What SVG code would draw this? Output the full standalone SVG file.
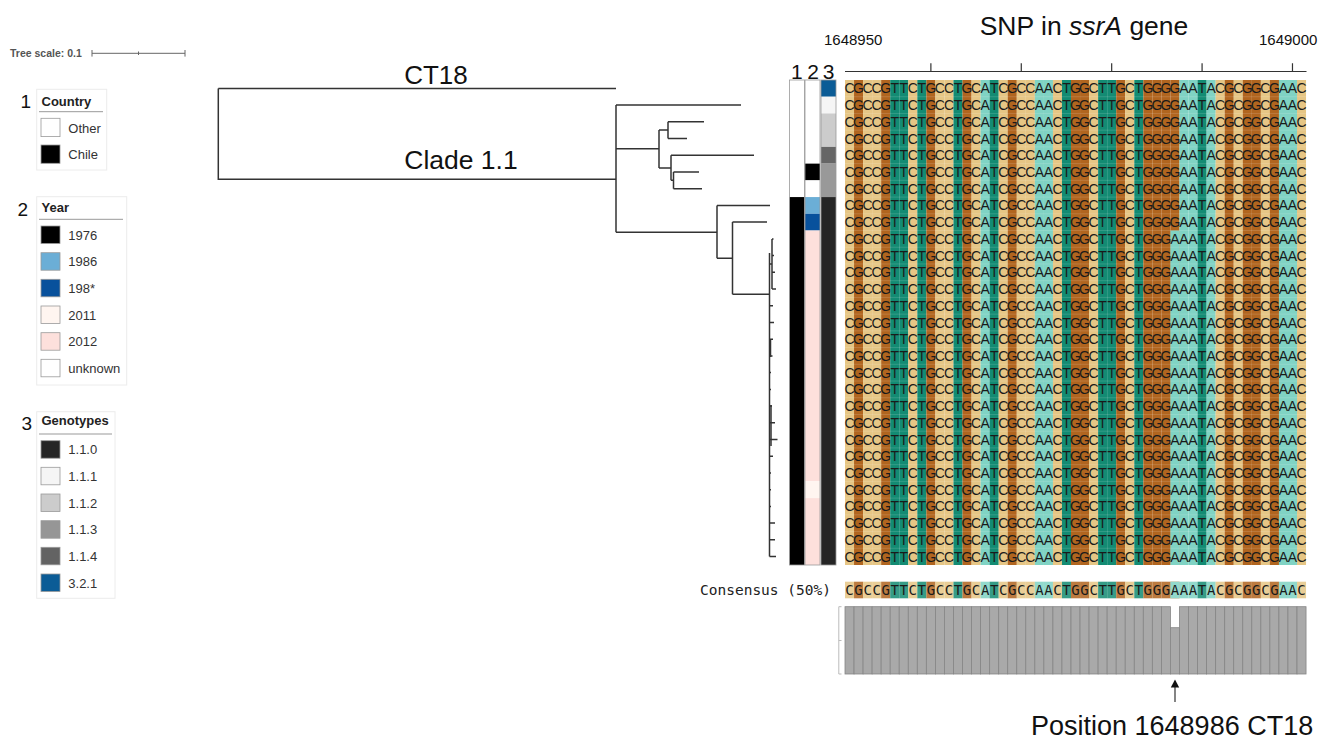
<svg xmlns="http://www.w3.org/2000/svg" xmlns:xlink="http://www.w3.org/1999/xlink" width="1326" height="740" viewBox="0 0 1326 740">
<style>
text{font-family:"Liberation Sans",Arial,sans-serif;fill:#111}
.lgt{font-size:13px;font-weight:bold;fill:#222}
.lgi{font-size:13px;fill:#333}
.lgn{font-size:19px;fill:#111}
.box{fill:#fff;stroke:#ececec;stroke-width:1}
.ul{stroke:#999;stroke-width:1}
.sw{stroke:#9a9a9a;stroke-width:0.8}
.tr{fill:none;stroke:#333;stroke-width:1.5}
.C{fill:#e6c685}.G{fill:#b1651f}.T{fill:#138b73}.A{fill:#80d3c4}
.seq{font-size:14px;text-anchor:middle;fill:#1a1a1a}
.cseq{font-family:"DejaVu Sans Mono",monospace;font-size:14px;text-anchor:middle;fill:#1a1a1a}
.bar{fill:#a9a9a9;stroke:#858585;stroke-width:0.8}
.mc{stroke:#9a9a9a;stroke-width:0.8;fill:none}
</style>
<defs>
<g id="cols">
<rect class="C" x="845" y="0" width="9.1" height="1"/><rect class="G" x="854.04" y="0" width="9.1" height="1"/><rect class="C" x="863.08" y="0" width="9.1" height="1"/><rect class="C" x="872.12" y="0" width="9.1" height="1"/><rect class="G" x="881.16" y="0" width="9.1" height="1"/><rect class="T" x="890.2" y="0" width="9.1" height="1"/><rect class="T" x="899.24" y="0" width="9.1" height="1"/><rect class="C" x="908.28" y="0" width="9.1" height="1"/><rect class="T" x="917.32" y="0" width="9.1" height="1"/><rect class="G" x="926.36" y="0" width="9.1" height="1"/>
<rect class="C" x="935.4" y="0" width="9.1" height="1"/><rect class="C" x="944.44" y="0" width="9.1" height="1"/><rect class="T" x="953.48" y="0" width="9.1" height="1"/><rect class="G" x="962.52" y="0" width="9.1" height="1"/><rect class="C" x="971.56" y="0" width="9.1" height="1"/><rect class="A" x="980.6" y="0" width="9.1" height="1"/><rect class="T" x="989.64" y="0" width="9.1" height="1"/><rect class="C" x="998.68" y="0" width="9.1" height="1"/><rect class="G" x="1007.72" y="0" width="9.1" height="1"/><rect class="C" x="1016.76" y="0" width="9.1" height="1"/>
<rect class="C" x="1025.8" y="0" width="9.1" height="1"/><rect class="A" x="1034.84" y="0" width="9.1" height="1"/><rect class="A" x="1043.88" y="0" width="9.1" height="1"/><rect class="C" x="1052.92" y="0" width="9.1" height="1"/><rect class="T" x="1061.96" y="0" width="9.1" height="1"/><rect class="G" x="1071" y="0" width="9.1" height="1"/><rect class="G" x="1080.04" y="0" width="9.1" height="1"/><rect class="C" x="1089.08" y="0" width="9.1" height="1"/><rect class="T" x="1098.12" y="0" width="9.1" height="1"/><rect class="T" x="1107.16" y="0" width="9.1" height="1"/>
<rect class="G" x="1116.2" y="0" width="9.1" height="1"/><rect class="C" x="1125.24" y="0" width="9.1" height="1"/><rect class="T" x="1134.28" y="0" width="9.1" height="1"/><rect class="G" x="1143.32" y="0" width="9.1" height="1"/><rect class="G" x="1152.36" y="0" width="9.1" height="1"/><rect class="G" x="1161.4" y="0" width="9.1" height="1"/><rect class="G" x="1170.44" y="0" width="9.1" height="1"/><rect class="A" x="1179.48" y="0" width="9.1" height="1"/><rect class="A" x="1188.52" y="0" width="9.1" height="1"/><rect class="T" x="1197.56" y="0" width="9.1" height="1"/>
<rect class="A" x="1206.6" y="0" width="9.1" height="1"/><rect class="C" x="1215.64" y="0" width="9.1" height="1"/><rect class="G" x="1224.68" y="0" width="9.1" height="1"/><rect class="C" x="1233.72" y="0" width="9.1" height="1"/><rect class="G" x="1242.76" y="0" width="9.1" height="1"/><rect class="G" x="1251.8" y="0" width="9.1" height="1"/><rect class="C" x="1260.84" y="0" width="9.1" height="1"/><rect class="G" x="1269.88" y="0" width="9.1" height="1"/><rect class="A" x="1278.92" y="0" width="9.1" height="1"/><rect class="A" x="1287.96" y="0" width="9.1" height="1"/>
<rect class="C" x="1297" y="0" width="9.04" height="1"/>
</g>
<text id="sG" class="seq" y="0" x="849.52 858.56 867.6 876.64 885.68 894.72 903.76 912.8 921.84 930.88 939.92 948.96 958 967.04 976.08 985.12 994.16 1003.2 1012.24 1021.28 1030.32 1039.36 1048.4 1057.44 1066.48 1075.52 1084.56 1093.6 1102.64 1111.68 1120.72 1129.76 1138.8 1147.84 1156.88 1165.92 1174.96 1184 1193.04 1202.08 1211.12 1220.16 1229.2 1238.24 1247.28 1256.32 1265.36 1274.4 1283.44 1292.48 1301.52">CGCCGTTCTGCCTGCATCGCCAACTGGCTTGCTGGGGAATACGCGGCGAAC</text>
<text id="sA" class="seq" y="0" x="849.52 858.56 867.6 876.64 885.68 894.72 903.76 912.8 921.84 930.88 939.92 948.96 958 967.04 976.08 985.12 994.16 1003.2 1012.24 1021.28 1030.32 1039.36 1048.4 1057.44 1066.48 1075.52 1084.56 1093.6 1102.64 1111.68 1120.72 1129.76 1138.8 1147.84 1156.88 1165.92 1174.96 1184 1193.04 1202.08 1211.12 1220.16 1229.2 1238.24 1247.28 1256.32 1265.36 1274.4 1283.44 1292.48 1301.52">CGCCGTTCTGCCTGCATCGCCAACTGGCTTGCTGGGAAATACGCGGCGAAC</text>
</defs>
<rect width="1326" height="740" fill="#fff"/>

<g id="tree-scale">
<text x="10" y="57" style="font-size:10.5px;font-weight:bold;fill:#555">Tree scale: 0.1</text>
<path d="M92,53.3 H185 M92,50 V56.6 M185,50 V56.6 M138.5,51.5 V55" stroke="#666" stroke-width="1" fill="none"/>
</g>

<g id="legend-country">
<text class="lgn" x="31" y="108" text-anchor="end">1</text>
<rect class="box" x="36.7" y="89.3" width="70" height="80.7"/>
<text class="lgt" x="41.5" y="105.7">Country</text>
<line class="ul" x1="39" y1="111.7" x2="103" y2="111.7"/>
<rect class="sw" x="41" y="118.3" width="19" height="18.3" fill="#fff"/><text class="lgi" x="68.3" y="132.5">Other</text>
<rect class="sw" x="41" y="145" width="19" height="18.3" fill="#000"/><text class="lgi" x="68.3" y="159">Chile</text>
</g>

<g id="legend-year">
<text class="lgn" x="28" y="216" text-anchor="end">2</text>
<rect class="box" x="36.7" y="196.7" width="90" height="188.3"/>
<text class="lgt" x="41.5" y="211.7">Year</text>
<line class="ul" x1="39" y1="219.3" x2="123" y2="219.3"/>
<rect class="sw" x="41" y="226" width="19" height="17.5" fill="#000"/><text class="lgi" x="68.3" y="239.5">1976</text>
<rect class="sw" x="41" y="252.7" width="19" height="17.5" fill="#6baed6"/><text class="lgi" x="68.3" y="266.2">1986</text>
<rect class="sw" x="41" y="279.3" width="19" height="17.5" fill="#08519c"/><text class="lgi" x="68.3" y="292.8">198*</text>
<rect class="sw" x="41" y="306" width="19" height="17.5" fill="#fff5f0"/><text class="lgi" x="68.3" y="319.5">2011</text>
<rect class="sw" x="41" y="332.7" width="19" height="17.5" fill="#fde0dc"/><text class="lgi" x="68.3" y="346.2">2012</text>
<rect class="sw" x="41" y="359.3" width="19" height="17.5" fill="#fff"/><text class="lgi" x="68.3" y="372.8">unknown</text>
</g>

<g id="legend-genotypes">
<text class="lgn" x="32" y="430" text-anchor="end">3</text>
<rect class="box" x="36.7" y="411.7" width="78.3" height="186.6"/>
<text class="lgt" x="41.5" y="425">Genotypes</text>
<line class="ul" x1="39" y1="434" x2="112" y2="434"/>
<rect class="sw" x="41" y="440.7" width="19" height="17.5" fill="#252525"/><text class="lgi" x="68.3" y="454.2">1.1.0</text>
<rect class="sw" x="41" y="467.3" width="19" height="17.5" fill="#f5f5f5"/><text class="lgi" x="68.3" y="480.8">1.1.1</text>
<rect class="sw" x="41" y="494" width="19" height="17.5" fill="#cccccc"/><text class="lgi" x="68.3" y="507.5">1.1.2</text>
<rect class="sw" x="41" y="520.7" width="19" height="17.5" fill="#969696"/><text class="lgi" x="68.3" y="534.2">1.1.3</text>
<rect class="sw" x="41" y="547.3" width="19" height="17.5" fill="#636363"/><text class="lgi" x="68.3" y="560.8">1.1.4</text>
<rect class="sw" x="41" y="574" width="19" height="17.5" fill="#0b5c96"/><text class="lgi" x="68.3" y="587.5">3.2.1</text>
</g>

<g id="tree-edges">
<path class="tr" d="M218.3,88.4 H616 M218.3,88.4 V179.3 H616 M616,105.1 V232.3 M616,105.1 H741 M616,148.7 H659 M659,130 V168 M659,130 H668 M668,121.8 V138.5 M668,121.8 H704 M668,138.5 H687 M659,168 H671 M671,155.3 V180.3 M671,155.3 H754 M671,180.3 H673.5 M673.5,172 V188.7 M673.5,172 H699 M673.5,188.7 H702 M616,232.3 H717 M717,205.4 V258.3 M717,205.4 H770 M717,258.3 H732.5 M732.5,222.1 V294.3 M732.5,222.1 H767 M732.5,294.3 H769.5"/>
<path class="tr" stroke-width="1.2" d="M769.5,253 V556.6 M769.5,264 H772 M772,238.9 V289 M772,238.9 H773.5 M772,255.6 H774 M772,272.3 H775 M772,289 H776 M769.5,305.8 H773 M769.5,322.5 H774 M769.5,339.2 H773 M769.5,355.9 H772.5 M769.5,372.6 H771 M769.5,389.4 H771 M769.5,406.1 H772 M769.5,422.8 H775 M769.5,439.5 H777.5 M769.5,456.2 H773 M769.5,473 H771 M769.5,489.7 H771 M769.5,506.4 H771 M769.5,523.1 H775 M769.5,539.8 H775 M769.5,556.6 H776"/>
<path class="tr" stroke-width="2.5" d="M770.5,339 V357 M771,405 V446"/>
</g>

<g id="tree-labels">
<text x="436" y="83.5" text-anchor="middle" style="font-size:26px">CT18</text>
<text x="461" y="169.3" text-anchor="middle" style="font-size:26.5px">Clade 1.1</text>
</g>

<g id="metadata">
<text x="796.8" y="78.5" text-anchor="middle" style="font-size:21px">1</text>
<text x="813" y="78.5" text-anchor="middle" style="font-size:21px">2</text>
<text x="828.5" y="78.5" text-anchor="middle" style="font-size:21px">3</text>
<rect x="789.5" y="80" width="15" height="117.07" fill="#fff"/>
<rect x="789.5" y="197.07" width="15" height="367.93" fill="#000"/>
<rect x="805" y="80" width="15" height="83.62" fill="#fff"/>
<rect x="805" y="163.62" width="15" height="16.72" fill="#000"/>
<rect x="805" y="180.34" width="15" height="16.73" fill="#fff"/>
<rect x="805" y="197.07" width="15" height="16.72" fill="#6baed6"/>
<rect x="805" y="213.79" width="15" height="16.73" fill="#08519c"/>
<rect x="805" y="230.52" width="15" height="250.86" fill="#fde0dc"/>
<rect x="805" y="481.38" width="15" height="16.72" fill="#fff5f0"/>
<rect x="805" y="498.1" width="15" height="66.9" fill="#fde0dc"/>
<rect x="821" y="80" width="15" height="16.72" fill="#0b5c96"/>
<rect x="821" y="96.72" width="15" height="16.73" fill="#f5f5f5"/>
<rect x="821" y="113.45" width="15" height="33.45" fill="#cccccc"/>
<rect x="821" y="146.9" width="15" height="16.72" fill="#666666"/>
<rect x="821" y="163.62" width="15" height="33.45" fill="#999999"/>
<rect x="821" y="197.07" width="15" height="367.93" fill="#252525"/>
<rect class="mc" x="789.5" y="80" width="15" height="485"/>
<rect class="mc" x="805" y="80" width="15" height="485"/>
<rect class="mc" x="821" y="80" width="15" height="485"/>
</g>

<g id="header">
<text x="1084" y="35" text-anchor="middle" style="font-size:26.5px">SNP in <tspan font-style="italic">ssrA</tspan> gene</text>
<text x="824" y="45" style="font-size:15px">1648950</text>
<text x="1259" y="45" style="font-size:15px">1649000</text>
<path d="M845,71.5 H1306.5 M930.88,63.3 V71.5 M1021.28,63.3 V71.5 M1111.68,63.3 V71.5 M1202.08,63.3 V71.5 M1292.48,63.3 V71.5" stroke="#333" stroke-width="1.2" fill="none"/>
</g>

<g id="alignment">
<use xlink:href="#cols" href="#cols" transform="translate(0,80) scale(1,485)"/>
<rect class="A" x="1170.44" y="230.52" width="9.1" height="334.48"/>
<path d="M845,96.72H1306M845,113.45H1306M845,130.17H1306M845,146.9H1306M845,163.62H1306M845,180.34H1306M845,197.07H1306M845,213.79H1306M845,230.52H1306M845,247.24H1306M845,263.96H1306M845,280.69H1306M845,297.41H1306M845,314.14H1306M845,330.86H1306M845,347.58H1306M845,364.31H1306M845,381.03H1306M845,397.76H1306M845,414.48H1306M845,431.2H1306M845,447.93H1306M845,464.65H1306M845,481.38H1306M845,498.1H1306M845,514.82H1306M845,531.55H1306M845,548.27H1306" stroke="#fff" stroke-opacity="0.18" stroke-width="0.8" fill="none"/>
<use xlink:href="#sG" href="#sG" y="93.36"/>
<use xlink:href="#sG" href="#sG" y="110.09"/>
<use xlink:href="#sG" href="#sG" y="126.81"/>
<use xlink:href="#sG" href="#sG" y="143.53"/>
<use xlink:href="#sG" href="#sG" y="160.26"/>
<use xlink:href="#sG" href="#sG" y="176.98"/>
<use xlink:href="#sG" href="#sG" y="193.71"/>
<use xlink:href="#sG" href="#sG" y="210.43"/>
<use xlink:href="#sG" href="#sG" y="227.16"/>
<use xlink:href="#sA" href="#sA" y="243.88"/>
<use xlink:href="#sA" href="#sA" y="260.6"/>
<use xlink:href="#sA" href="#sA" y="277.33"/>
<use xlink:href="#sA" href="#sA" y="294.05"/>
<use xlink:href="#sA" href="#sA" y="310.78"/>
<use xlink:href="#sA" href="#sA" y="327.5"/>
<use xlink:href="#sA" href="#sA" y="344.22"/>
<use xlink:href="#sA" href="#sA" y="360.95"/>
<use xlink:href="#sA" href="#sA" y="377.67"/>
<use xlink:href="#sA" href="#sA" y="394.4"/>
<use xlink:href="#sA" href="#sA" y="411.12"/>
<use xlink:href="#sA" href="#sA" y="427.84"/>
<use xlink:href="#sA" href="#sA" y="444.57"/>
<use xlink:href="#sA" href="#sA" y="461.29"/>
<use xlink:href="#sA" href="#sA" y="478.02"/>
<use xlink:href="#sA" href="#sA" y="494.74"/>
<use xlink:href="#sA" href="#sA" y="511.46"/>
<use xlink:href="#sA" href="#sA" y="528.19"/>
<use xlink:href="#sA" href="#sA" y="544.91"/>
<use xlink:href="#sA" href="#sA" y="561.64"/>
</g>

<g id="consensus">
<text x="700" y="595" style="font-family:'DejaVu Sans Mono',monospace;font-size:14.5px;fill:#222">Consensus (50%)</text>
<g opacity="0.85">
<use xlink:href="#cols" href="#cols" transform="translate(0,581.7) scale(1,16.6)"/>
<rect class="A" x="1170.44" y="581.7" width="9.1" height="16.6"/>
</g>
<text class="cseq" y="595" x="849.52 858.56 867.6 876.64 885.68 894.72 903.76 912.8 921.84 930.88 939.92 948.96 958 967.04 976.08 985.12 994.16 1003.2 1012.24 1021.28 1030.32 1039.36 1048.4 1057.44 1066.48 1075.52 1084.56 1093.6 1102.64 1111.68 1120.72 1129.76 1138.8 1147.84 1156.88 1165.92 1174.96 1184 1193.04 1202.08 1211.12 1220.16 1229.2 1238.24 1247.28 1256.32 1265.36 1274.4 1283.44 1292.48 1301.52">CGCCGTTCTGCCTGCATCGCCAACTGGCTTGCTGGGAAATACGCGGCGAAC</text>
</g>

<g id="histogram">
<path d="M841.5,606.7 H838.8 V674 H841.5 M838.8,640.5 H841.5" stroke="#bbb" stroke-width="1" fill="none"/>
<rect class="bar" x="845" y="606.7" width="9.04" height="67.3"/><rect class="bar" x="854.04" y="606.7" width="9.04" height="67.3"/><rect class="bar" x="863.08" y="606.7" width="9.04" height="67.3"/><rect class="bar" x="872.12" y="606.7" width="9.04" height="67.3"/><rect class="bar" x="881.16" y="606.7" width="9.04" height="67.3"/><rect class="bar" x="890.2" y="606.7" width="9.04" height="67.3"/><rect class="bar" x="899.24" y="606.7" width="9.04" height="67.3"/><rect class="bar" x="908.28" y="606.7" width="9.04" height="67.3"/><rect class="bar" x="917.32" y="606.7" width="9.04" height="67.3"/><rect class="bar" x="926.36" y="606.7" width="9.04" height="67.3"/>
<rect class="bar" x="935.4" y="606.7" width="9.04" height="67.3"/><rect class="bar" x="944.44" y="606.7" width="9.04" height="67.3"/><rect class="bar" x="953.48" y="606.7" width="9.04" height="67.3"/><rect class="bar" x="962.52" y="606.7" width="9.04" height="67.3"/><rect class="bar" x="971.56" y="606.7" width="9.04" height="67.3"/><rect class="bar" x="980.6" y="606.7" width="9.04" height="67.3"/><rect class="bar" x="989.64" y="606.7" width="9.04" height="67.3"/><rect class="bar" x="998.68" y="606.7" width="9.04" height="67.3"/><rect class="bar" x="1007.72" y="606.7" width="9.04" height="67.3"/><rect class="bar" x="1016.76" y="606.7" width="9.04" height="67.3"/>
<rect class="bar" x="1025.8" y="606.7" width="9.04" height="67.3"/><rect class="bar" x="1034.84" y="606.7" width="9.04" height="67.3"/><rect class="bar" x="1043.88" y="606.7" width="9.04" height="67.3"/><rect class="bar" x="1052.92" y="606.7" width="9.04" height="67.3"/><rect class="bar" x="1061.96" y="606.7" width="9.04" height="67.3"/><rect class="bar" x="1071" y="606.7" width="9.04" height="67.3"/><rect class="bar" x="1080.04" y="606.7" width="9.04" height="67.3"/><rect class="bar" x="1089.08" y="606.7" width="9.04" height="67.3"/><rect class="bar" x="1098.12" y="606.7" width="9.04" height="67.3"/><rect class="bar" x="1107.16" y="606.7" width="9.04" height="67.3"/>
<rect class="bar" x="1116.2" y="606.7" width="9.04" height="67.3"/><rect class="bar" x="1125.24" y="606.7" width="9.04" height="67.3"/><rect class="bar" x="1134.28" y="606.7" width="9.04" height="67.3"/><rect class="bar" x="1143.32" y="606.7" width="9.04" height="67.3"/><rect class="bar" x="1152.36" y="606.7" width="9.04" height="67.3"/><rect class="bar" x="1161.4" y="606.7" width="9.04" height="67.3"/><rect class="bar" x="1170.44" y="627.7" width="9.04" height="46.3"/><rect class="bar" x="1179.48" y="606.7" width="9.04" height="67.3"/><rect class="bar" x="1188.52" y="606.7" width="9.04" height="67.3"/><rect class="bar" x="1197.56" y="606.7" width="9.04" height="67.3"/>
<rect class="bar" x="1206.6" y="606.7" width="9.04" height="67.3"/><rect class="bar" x="1215.64" y="606.7" width="9.04" height="67.3"/><rect class="bar" x="1224.68" y="606.7" width="9.04" height="67.3"/><rect class="bar" x="1233.72" y="606.7" width="9.04" height="67.3"/><rect class="bar" x="1242.76" y="606.7" width="9.04" height="67.3"/><rect class="bar" x="1251.8" y="606.7" width="9.04" height="67.3"/><rect class="bar" x="1260.84" y="606.7" width="9.04" height="67.3"/><rect class="bar" x="1269.88" y="606.7" width="9.04" height="67.3"/><rect class="bar" x="1278.92" y="606.7" width="9.04" height="67.3"/><rect class="bar" x="1287.96" y="606.7" width="9.04" height="67.3"/>
<rect class="bar" x="1297" y="606.7" width="9.04" height="67.3"/>
</g>

<g id="annotation">
<path d="M1175,702 V686" stroke="#333" stroke-width="1.2"/>
<path d="M1175,679.5 L1179.2,687.5 L1170.8,687.5 Z" fill="#111"/>
<text x="1031" y="735" style="font-size:27px">Position 1648986 CT18</text>
</g>
</svg>
